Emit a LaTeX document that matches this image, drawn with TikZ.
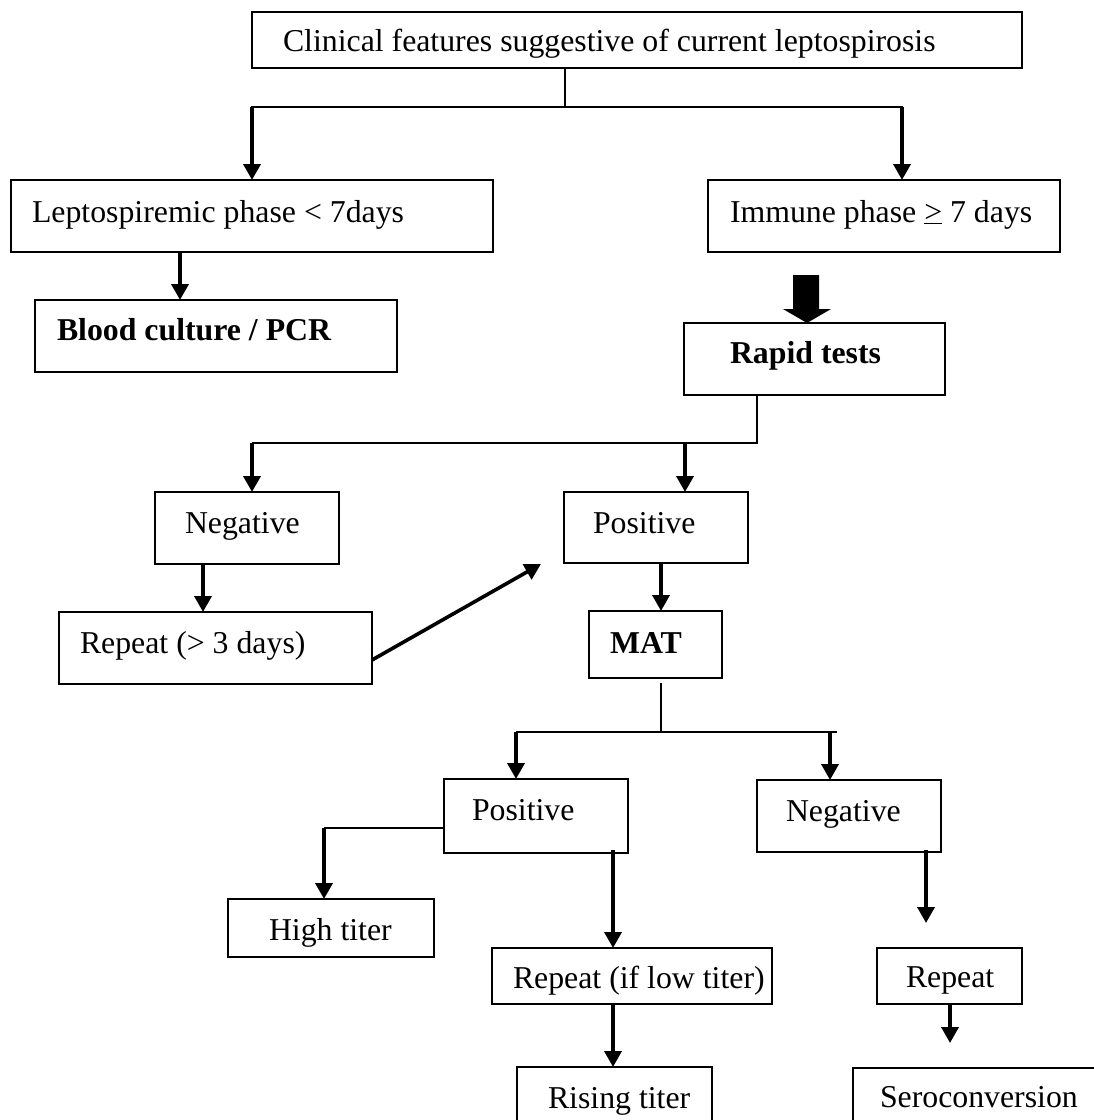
\documentclass[tikz,border=0pt]{standalone}
\usepackage{fontspec}
\setmainfont{Liberation Serif}
\usetikzlibrary{arrows.meta,calc}
\tikzset{
  box/.style={draw, line width=2pt, inner sep=0pt, outer sep=0pt},
  txt/.style={anchor=base west, inner sep=0pt, outer sep=0pt, font=\fontsize{31.8}{38}\selectfont},
  btxt/.style={anchor=base west, inner sep=0pt, outer sep=0pt, font=\fontsize{31.8}{38}\selectfont\bfseries},
  arr/.style={line width=3.6pt, -{Triangle[width=17pt,length=16pt]}},
  thinline/.style={line width=2pt},
  barline/.style={line width=2.5pt, line cap=rect},
}
\newcommand\mybox[5]{\node[box, minimum width={(#4-#2)*1pt}, minimum height={(#5-#3)*1pt}] (#1) at ({(#2+#4)/2},{(#3+#5)/2}) {};}
\begin{document}
\begin{tikzpicture}[x=1pt,y=-1pt]
\useasboundingbox (0,0) rectangle (1094,1120);
\fill[white] (0,0) rectangle (1094,1120);

% boxes
\mybox{top}{252}{12}{1022}{68}
\mybox{lepto}{11}{180}{493}{252}
\mybox{immune}{708}{180}{1060}{252}
\mybox{blood}{35}{300}{397}{372}
\mybox{rapid}{684}{323}{945}{395}
\mybox{negA}{155}{492}{339}{564}
\mybox{posA}{564}{492}{748}{563}
\mybox{repA}{59}{612}{372}{684}
\mybox{mat}{589}{611}{722}{678}
\mybox{posB}{444}{779}{628}{853}
\mybox{negB}{757}{780}{941}{852}
\mybox{high}{228}{899}{434}{957}
\mybox{repB}{492}{948}{772}{1004}
\mybox{repC}{877}{948}{1022}{1004}
\mybox{rising}{517}{1067}{712}{1135}
\mybox{sero}{853}{1068}{1110}{1135}

% texts
\node[txt] (ttop) at (283,51) {Clinical features suggestive of current leptospirosis};
\node[txt] (tlepto) at (32,222) {Leptospiremic phase < 7days};
\node[txt] (timmune) at (730,222) {Immune phase \underline{>} 7 days};
\node[btxt] (tblood) at (57,340) {Blood culture / PCR};
\node[btxt] (trapid) at (730,363) {Rapid tests};
\node[txt] (tnegA) at (185,533) {Negative};
\node[txt] (tposA) at (593,533) {Positive};
\node[txt] (trepA) at (80,653) {Repeat (> 3 days)};
\node[btxt] (tmat) at (610,653) {MAT};
\node[txt] (tposB) at (472,820) {Positive};
\node[txt] (tnegB) at (786,821) {Negative};
\node[txt] (thigh) at (269,940) {High titer};
\node[txt] (trepB) at (513,988) {Repeat (if low titer)};
\node[txt] (trepC) at (906,987) {Repeat};
\node[txt] (trising) at (548,1108) {Rising titer};
\node[txt] (tsero) at (880,1107) {Seroconversion};

% top split
\coordinate (a1) at (565,107);
\coordinate (a2) at (252,107);
\coordinate (a3) at (902,107);
\draw[thinline] (top.south -| a1) -- (a1);
\draw[barline] (a2) -- (a3);
\draw[arr] (a2) -- (a2 |- lepto.north);
\draw[arr] (a3) -- (a3 |- immune.north);

% lepto -> blood
\coordinate (b1) at (180,0);
\draw[arr] (b1 |- lepto.south) -- (b1 |- blood.north);

% immune -> rapid (block arrow)
\coordinate (bt) at (807,0);
\fill ($(bt |- rapid.north)+(-14,-48)$) -- ($(bt |- rapid.north)+(12,-48)$)
  -- ($(bt |- rapid.north)+(12,-14)$) -- ($(bt |- rapid.north)+(24,-14)$)
  -- (bt |- rapid.north) -- ($(bt |- rapid.north)+(-24,-14)$)
  -- ($(bt |- rapid.north)+(-14,-14)$) -- cycle;

% rapid -> negative / positive
\coordinate (c1) at (757,443);
\coordinate (c2) at (252,443);
\coordinate (c3) at (685,443);
\draw[thinline] (c1 |- rapid.south) -- (c1) -- (c2);
\draw[arr] (c2) -- (c2 |- negA.north);
\draw[arr] (c3) -- (c3 |- posA.north);

% negative -> repeat -> positive
\coordinate (d1) at (203,0);
\draw[arr] (d1 |- negA.south) -- (d1 |- repA.north);
\draw[arr] ($(repA.south east)+(0,-24)$) -- ($(posA.south west)+(-23,1)$);

% positive -> MAT
\coordinate (e1) at (661,0);
\draw[arr] (e1 |- posA.south) -- (e1 |- mat.north);

% MAT split
\coordinate (f1) at (661,732);
\coordinate (f2) at (516,732);
\coordinate (f3) at (830,732);
\coordinate (f4) at (837,732);
\draw[thinline] ($(e1 |- mat.south)+(0,5)$) -- (f1);
\draw[thinline] (f2) -- (f4);
\draw[arr] (f2) -- (f2 |- posB.north);
\draw[arr] (f3) -- (f3 |- negB.north);

% positive -> high titer
\coordinate (g1) at (324,828);
\draw[thinline] (g1 -| posB.west) -- (g1);
\draw[arr] (g1) -- (g1 |- high.north);

% positive -> repeat -> rising
\coordinate (h1) at (613,0);
\draw[arr] ($(h1 |- posB.south)+(0,-3)$) -- (h1 |- repB.north);
\draw[arr] (h1 |- repB.south) -- (h1 |- rising.north);

% negative -> (repeat) ; repeat -> (seroconversion)
\coordinate (k1) at (926,923);
\draw[arr] ($(k1 |- negB.south)+(0,-2)$) -- (k1);
\coordinate (m1) at (950,1043);
\draw[arr] (m1 |- repC.south) -- (m1);
\end{tikzpicture}
\end{document}
